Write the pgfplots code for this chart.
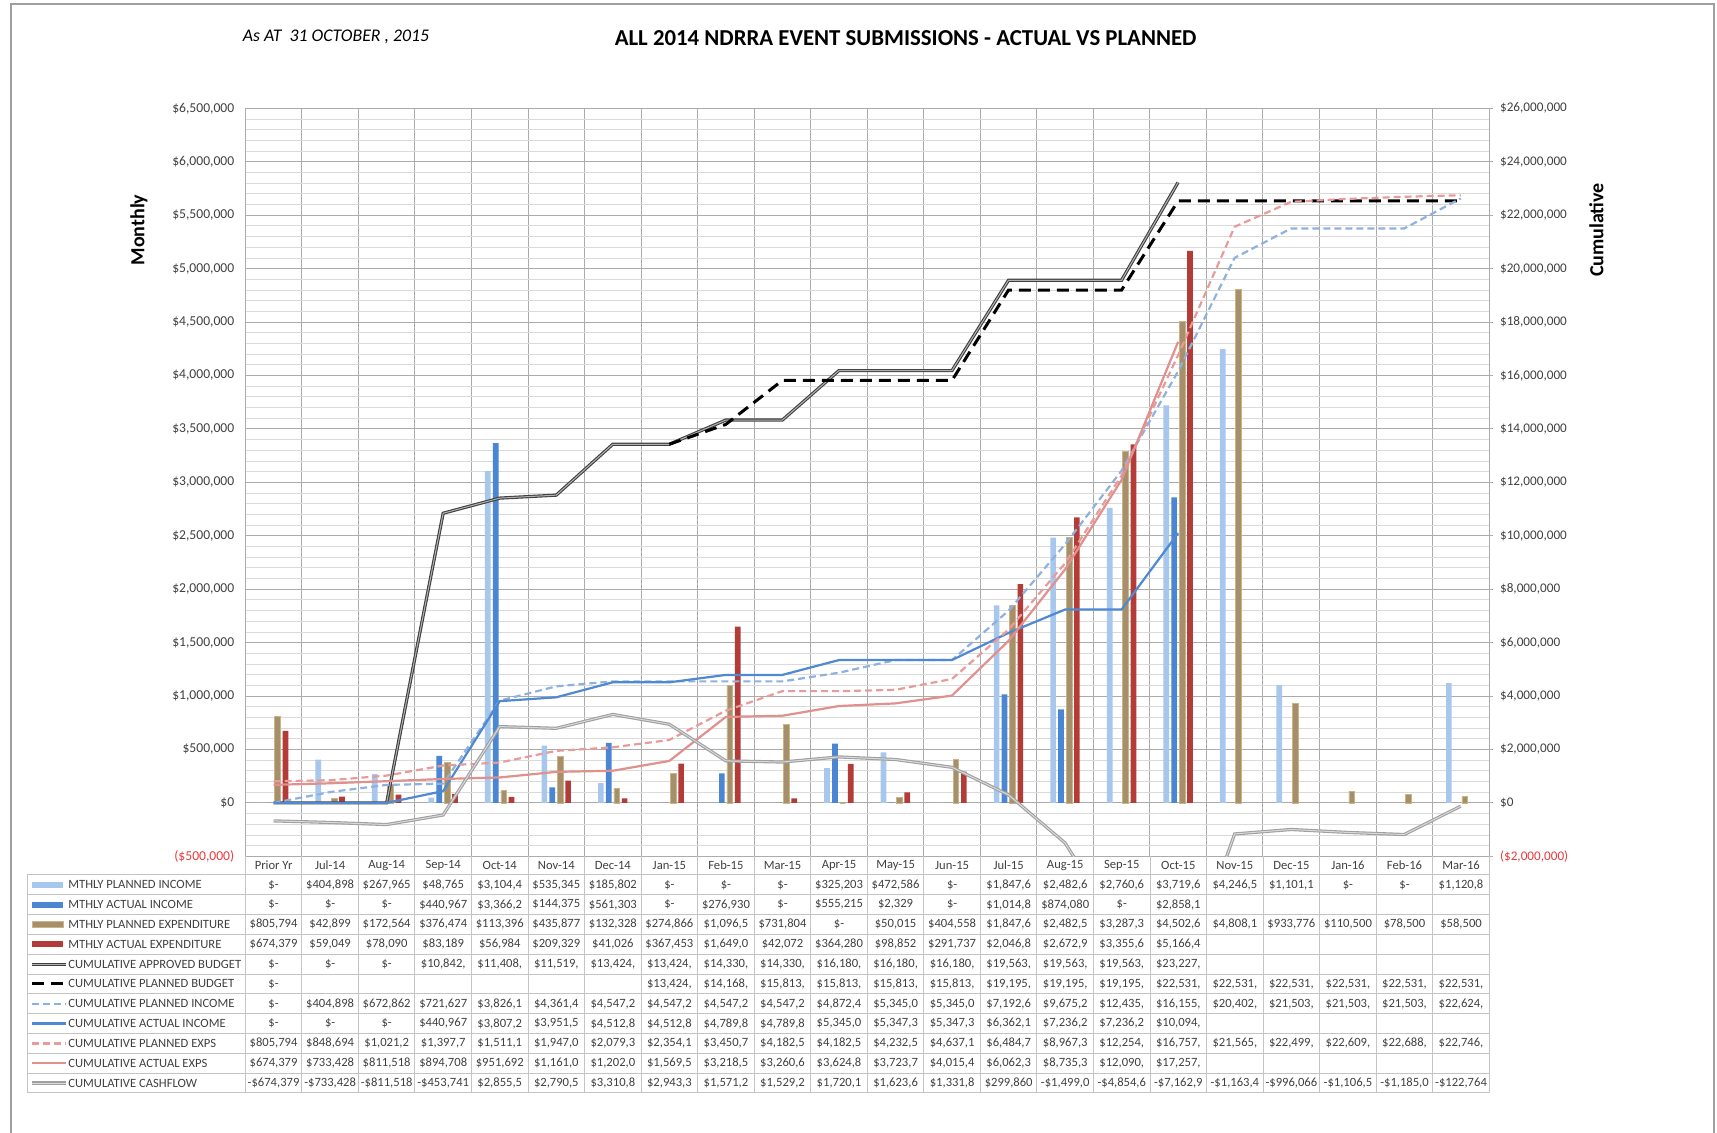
\documentclass[border=0pt]{standalone}
\usepackage{pgfplots}
\pgfplotsset{compat=1.18}
\usepackage{pgfplotstable}
\usepackage{fontspec}
\setmainfont{Carlito}

\definecolor{cPI}{HTML}{A7C7EC}
\definecolor{cAI}{HTML}{4A86D3}
\definecolor{cPE}{HTML}{A78E6C}
\definecolor{cPEd}{HTML}{C8B57F}
\definecolor{cAE}{HTML}{B33C39}
\definecolor{cCAB}{HTML}{404040}
\definecolor{cCPI}{HTML}{8FB1DF}
\definecolor{cCAI}{HTML}{4F89D2}
\definecolor{cCPE}{HTML}{E89B99}
\definecolor{cCAE}{HTML}{E0908D}
\definecolor{cCF}{HTML}{A0A0A0}
\definecolor{txt}{HTML}{404040}
\definecolor{gridmaj}{HTML}{ABABAB}
\definecolor{gridmin}{HTML}{DADADA}
\definecolor{tbl}{HTML}{C4C4C4}
\definecolor{negred}{HTML}{E8393F}

\tikzset{
  sPI/.style={fill=cPI, draw=none},
  sAI/.style={fill=cAI, draw=none},
  sPE/.style={fill=cPE, draw=cPEd, line width=0.3pt},
  sAE/.style={fill=cAE, draw=none},
  sCAB/.style={draw=cCAB, line width=0.55pt, double=gray!60, double distance=0.5pt},
  sCPB/.style={draw=black, line width=1.5pt, dash pattern=on 6pt off 3.5pt},
  sCPI/.style={draw=cCPI, line width=1.1pt, dash pattern=on 3.5pt off 2pt},
  sCAI/.style={draw=cCAI, line width=1.1pt},
  sCPE/.style={draw=cCPE, line width=1.1pt, dash pattern=on 3.5pt off 2pt},
  sCAE/.style={draw=cCAE, line width=1.1pt},
  sCF/.style={draw=cCF, line width=0.55pt, double=gray!30, double distance=0.5pt},
  tcell/.style={font=\fontsize{6.3}{7}\selectfont, text=txt, inner sep=0pt, anchor=center},
  tlab/.style={font=\fontsize{6.3}{7}\selectfont, text=txt, inner sep=0pt, anchor=west},
}

\pgfplotstableread{
x pi ai pe ae
0 0 0 805794 674379
1 404898 0 42899 59049
2 267965 0 172564 78090
3 48765 440967 376474 83189
4 3104400 3366200 113396 56984
5 535345 144375 435877 209329
6 185802 561303 132328 41026
7 0 0 274866 367453
8 0 276930 1096500 1649000
9 0 0 731804 42072
10 325203 555215 0 364280
11 472586 2329 50015 98852
12 0 0 404558 291737
13 1847600 1014800 1847600 2046800
14 2482600 874080 2482500 2672900
15 2760600 0 3287300 3355600
16 3719600 2858100 4502600 5166400
17 4246500 nan 4808100 nan
18 1101100 nan 933776 nan
19 0 nan 110500 nan
20 0 nan 78500 nan
21 1120800 nan 58500 nan
}\monthly

\pgfplotstableread{
x cab cpb cpi cai cpe cae ccf
0 0 0 0 0 805794 674379 -674379
1 0 nan 404898 0 848694 733428 -733428
2 0 nan 672862 0 1021200 811518 -811518
3 10842000 nan 721627 440967 1397700 894708 -453741
4 11408000 nan 3826100 3807200 1511100 951692 2855500
5 11519000 nan 4361400 3951500 1947000 1161000 2790500
6 13424000 nan 4547200 4512800 2079300 1202000 3310800
7 13424000 13424000 4547200 4512800 2354100 1569500 2943300
8 14330000 14168000 4547200 4789800 3450700 3218500 1571200
9 14330000 15813000 4547200 4789800 4182500 3260600 1529200
10 16180000 15813000 4872400 5345000 4182500 3624800 1720100
11 16180000 15813000 5345000 5347300 4232500 3723700 1623600
12 16180000 15813000 5345000 5347300 4637100 4015400 1331800
13 19563000 19195000 7192600 6362100 6484700 6062300 299860
14 19563000 19195000 9675200 7236200 8967300 8735300 -1499000
15 19563000 19195000 12435000 7236200 12254000 12090000 -4854600
16 23227000 22531000 16155000 10094000 16757000 17257000 -7162900
17 nan 22531000 20402000 nan 21565000 nan -1163400
18 nan 22531000 21503000 nan 22499000 nan -996066
19 nan 22531000 21503000 nan 22609000 nan -1106500
20 nan 22531000 21503000 nan 22688000 nan -1185000
21 nan 22531000 22624000 nan 22746000 nan -122764
}\cumul

\newcommand\trow[2]{%
  \foreach \v [count=\c from 0] in {#2}{%
    \node[tcell] at ({245.3+56.545*(\c+0.5)},{884.8+19.82*#1}) {\v};}}

\begin{document}
\begin{tikzpicture}
\path[use as bounding box] (0,0) rectangle (858.5pt,-566.5pt);

\begin{axis}[
  at={(122.65pt,-428.15pt)}, anchor=south west,
  scale only axis, width=621.85pt, height=374pt,
  xmin=-0.5, xmax=21.5, ymin=-500000, ymax=6500000,
  xtick={-0.5,0.5,...,21.5}, xticklabel=\empty,
  ytick={-500000,0,500000,1000000,1500000,2000000,2500000,3000000,3500000,4000000,4500000,5000000,5500000,6000000,6500000},
  yticklabels={{\textcolor{negred}{(\$500,000)}},{\$0},{\$500,000},{\$1,000,000},{\$1,500,000},{\$2,000,000},{\$2,500,000},{\$3,000,000},{\$3,500,000},{\$4,000,000},{\$4,500,000},{\$5,000,000},{\$5,500,000},{\$6,000,000},{\$6,500,000}},
  minor y tick num=4,
  xmajorgrids, ymajorgrids, yminorgrids,
  major grid style={draw=gridmaj, line width=0.45pt},
  minor grid style={draw=gridmin, line width=0.4pt},
  major tick length=0pt, minor tick length=0pt,
  axis line style={draw=gridmaj, line width=0.5pt},
  ytick pos=left,
  yticklabel style={font=\fontsize{6.8}{7.5}\selectfont, text=txt, xshift=-2pt},
  unbounded coords=jump,
  scaled y ticks=false,
]
\addplot[ybar, bar width=0.1, bar shift=-0.21, sPI] table[x=x,y=pi]{\monthly};
\addplot[ybar, bar width=0.1, bar shift=-0.07, sAI] table[x=x,y=ai]{\monthly};
\addplot[ybar, bar width=0.1, bar shift=0.07, sPE] table[x=x,y=pe]{\monthly};
\addplot[ybar, bar width=0.1, bar shift=0.21, sAE] table[x=x,y=ae]{\monthly};
\end{axis}

\begin{axis}[
  at={(122.65pt,-428.15pt)}, anchor=south west,
  scale only axis, width=621.85pt, height=374pt,
  xmin=-0.5, xmax=21.5, ymin=-2000000, ymax=26000000,
  axis x line=none, axis y line*=right,
  ytick={-2000000,0,2000000,4000000,6000000,8000000,10000000,12000000,14000000,16000000,18000000,20000000,22000000,24000000,26000000},
  yticklabels={{\textcolor{negred}{(\$2,000,000)}},{\$0},{\$2,000,000},{\$4,000,000},{\$6,000,000},{\$8,000,000},{\$10,000,000},{\$12,000,000},{\$14,000,000},{\$16,000,000},{\$18,000,000},{\$20,000,000},{\$22,000,000},{\$24,000,000},{\$26,000,000}},
  y axis line style={draw=gridmaj, line width=0.5pt},
  ytick style={draw=gridmaj, line width=0.5pt},
  major tick length=2pt, tick align=outside, minor tick num=0,
  yticklabel style={font=\fontsize{6.6}{7.5}\selectfont, text=txt},
  unbounded coords=jump,
  scaled y ticks=false,
]
\addplot[sCAB] table[x=x,y=cab]{\cumul};
\addplot[sCPB] table[x=x,y=cpb]{\cumul};
\addplot[sCPI] table[x=x,y=cpi]{\cumul};
\addplot[sCAI] table[x=x,y=cai]{\cumul};
\addplot[sCPE] table[x=x,y=cpe]{\cumul};
\addplot[sCAE] table[x=x,y=cae]{\cumul};
\addplot[sCF] table[x=x,y=ccf]{\cumul};
\end{axis}

\begin{scope}[x=0.5pt,y=-0.5pt]
% chart frame
\draw[gray!75, line width=0.6pt] (11,1140) -- (11,4) -- (1714,4) -- (1714,1140);
% titles
\node[font=\bfseries\fontsize{11.4}{13}\selectfont, text=black] at (905.6,38) {ALL 2014 NDRRA EVENT SUBMISSIONS - ACTUAL VS PLANNED};
\node[font=\itshape\fontsize{8.9}{10}\selectfont, text=black] at (336,37) {As AT\ \ 31 OCTOBER , 2015};
\node[rotate=90, font=\bfseries\fontsize{10}{12}\selectfont, text=black] at (139,230) {Monthly};
\node[rotate=90, font=\bfseries\fontsize{10}{12}\selectfont, text=black] at (1596.5,230) {Cumulative};

% table grid
\foreach \k in {0,...,11}{\draw[tbl, line width=0.5pt] (27.4,{874.9+19.82*\k}) -- (1489,{874.9+19.82*\k});}
\draw[tbl, line width=0.5pt] (27.4,874.9) -- (27.4,1092.9);
\foreach \j in {0,...,22}{\draw[tbl, line width=0.5pt] ({245.3+56.545*\j},856.3) -- ({245.3+56.545*\j},1092.9);}

% header
\foreach \v [count=\c from 0] in {Prior Yr,Jul-14,Aug-14,Sep-14,Oct-14,Nov-14,Dec-14,Jan-15,Feb-15,Mar-15,Apr-15,May-15,Jun-15,Jul-15,Aug-15,Sep-15,Oct-15,Nov-15,Dec-15,Jan-16,Feb-16,Mar-16}{%
  \node[tcell] at ({245.3+56.545*(\c+0.5)},865.6) {\v};}

% legend keys and row names
\fill[cPI] (32,881.8) rectangle (63,887.8);
\fill[cAI] (32,901.6) rectangle (63,907.6);
\filldraw[sPE] (32,921.4) rectangle (63,927.4);
\fill[cAE] (32,941.3) rectangle (63,947.3);
\draw[sCAB] (32,964.1) -- (66,964.1);
\draw[sCPB] (32,983.9) -- (66,983.9);
\draw[sCPI] (32,1003.7) -- (66,1003.7);
\draw[sCAI] (32,1023.5) -- (66,1023.5);
\draw[sCPE] (32,1043.4) -- (66,1043.4);
\draw[sCAE] (32,1063.2) -- (66,1063.2);
\draw[sCF] (32,1083.0) -- (66,1083.0);
\node[tlab] at (68,884.8) {MTHLY PLANNED INCOME};
\node[tlab] at (68,904.6) {MTHLY ACTUAL INCOME};
\node[tlab] at (68,924.4) {MTHLY PLANNED EXPENDITURE};
\node[tlab] at (68,944.3) {MTHLY ACTUAL EXPENDITURE};
\node[tlab] at (68,964.1) {CUMULATIVE APPROVED BUDGET};
\node[tlab] at (68,983.9) {CUMULATIVE PLANNED BUDGET};
\node[tlab] at (68,1003.7) {CUMULATIVE PLANNED INCOME};
\node[tlab] at (68,1023.5) {CUMULATIVE ACTUAL INCOME};
\node[tlab] at (68,1043.4) {CUMULATIVE PLANNED EXPS};
\node[tlab] at (68,1063.2) {CUMULATIVE ACTUAL EXPS};
\node[tlab] at (68,1083.0) {CUMULATIVE CASHFLOW};

% table values
\trow{0}{{\$-},{\$404,898},{\$267,965},{\$48,765},{\$3,104,4},{\$535,345},{\$185,802},{\$-},{\$-},{\$-},{\$325,203},{\$472,586},{\$-},{\$1,847,6},{\$2,482,6},{\$2,760,6},{\$3,719,6},{\$4,246,5},{\$1,101,1},{\$-},{\$-},{\$1,120,8}}
\trow{1}{{\$-},{\$-},{\$-},{\$440,967},{\$3,366,2},{\$144,375},{\$561,303},{\$-},{\$276,930},{\$-},{\$555,215},{\$2,329},{\$-},{\$1,014,8},{\$874,080},{\$-},{\$2,858,1}}
\trow{2}{{\$805,794},{\$42,899},{\$172,564},{\$376,474},{\$113,396},{\$435,877},{\$132,328},{\$274,866},{\$1,096,5},{\$731,804},{\$-},{\$50,015},{\$404,558},{\$1,847,6},{\$2,482,5},{\$3,287,3},{\$4,502,6},{\$4,808,1},{\$933,776},{\$110,500},{\$78,500},{\$58,500}}
\trow{3}{{\$674,379},{\$59,049},{\$78,090},{\$83,189},{\$56,984},{\$209,329},{\$41,026},{\$367,453},{\$1,649,0},{\$42,072},{\$364,280},{\$98,852},{\$291,737},{\$2,046,8},{\$2,672,9},{\$3,355,6},{\$5,166,4}}
\trow{4}{{\$-},{\$-},{\$-},{\$10,842,},{\$11,408,},{\$11,519,},{\$13,424,},{\$13,424,},{\$14,330,},{\$14,330,},{\$16,180,},{\$16,180,},{\$16,180,},{\$19,563,},{\$19,563,},{\$19,563,},{\$23,227,}}
\trow{5}{{\$-},{},{},{},{},{},{},{\$13,424,},{\$14,168,},{\$15,813,},{\$15,813,},{\$15,813,},{\$15,813,},{\$19,195,},{\$19,195,},{\$19,195,},{\$22,531,},{\$22,531,},{\$22,531,},{\$22,531,},{\$22,531,},{\$22,531,}}
\trow{6}{{\$-},{\$404,898},{\$672,862},{\$721,627},{\$3,826,1},{\$4,361,4},{\$4,547,2},{\$4,547,2},{\$4,547,2},{\$4,547,2},{\$4,872,4},{\$5,345,0},{\$5,345,0},{\$7,192,6},{\$9,675,2},{\$12,435,},{\$16,155,},{\$20,402,},{\$21,503,},{\$21,503,},{\$21,503,},{\$22,624,}}
\trow{7}{{\$-},{\$-},{\$-},{\$440,967},{\$3,807,2},{\$3,951,5},{\$4,512,8},{\$4,512,8},{\$4,789,8},{\$4,789,8},{\$5,345,0},{\$5,347,3},{\$5,347,3},{\$6,362,1},{\$7,236,2},{\$7,236,2},{\$10,094,}}
\trow{8}{{\$805,794},{\$848,694},{\$1,021,2},{\$1,397,7},{\$1,511,1},{\$1,947,0},{\$2,079,3},{\$2,354,1},{\$3,450,7},{\$4,182,5},{\$4,182,5},{\$4,232,5},{\$4,637,1},{\$6,484,7},{\$8,967,3},{\$12,254,},{\$16,757,},{\$21,565,},{\$22,499,},{\$22,609,},{\$22,688,},{\$22,746,}}
\trow{9}{{\$674,379},{\$733,428},{\$811,518},{\$894,708},{\$951,692},{\$1,161,0},{\$1,202,0},{\$1,569,5},{\$3,218,5},{\$3,260,6},{\$3,624,8},{\$3,723,7},{\$4,015,4},{\$6,062,3},{\$8,735,3},{\$12,090,},{\$17,257,}}
\trow{10}{{-\$674,379},{-\$733,428},{-\$811,518},{-\$453,741},{\$2,855,5},{\$2,790,5},{\$3,310,8},{\$2,943,3},{\$1,571,2},{\$1,529,2},{\$1,720,1},{\$1,623,6},{\$1,331,8},{\$299,860},{-\$1,499,0},{-\$4,854,6},{-\$7,162,9},{-\$1,163,4},{-\$996,066},{-\$1,106,5},{-\$1,185,0},{-\$122,764}}
\end{scope}
\end{tikzpicture}
\end{document}
